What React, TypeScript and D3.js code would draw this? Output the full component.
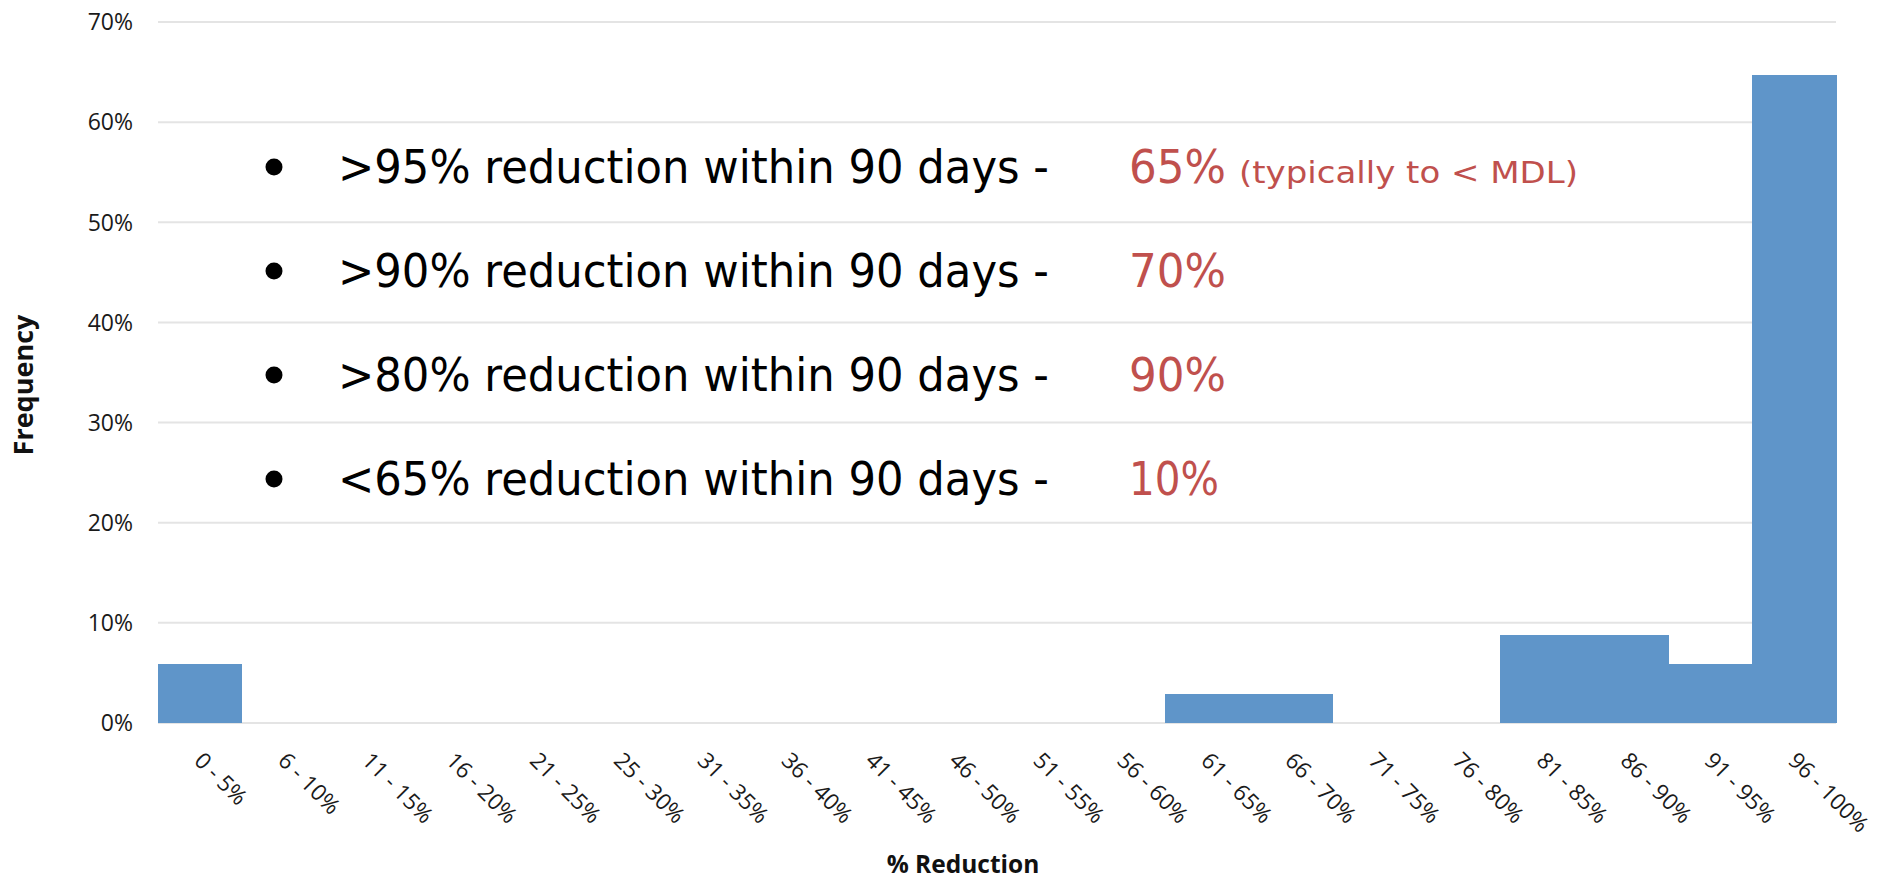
import React from 'react';
import * as d3 from 'd3';

const categories = [
  '0 - 5%', '6 - 10%', '11 - 15%', '16 - 20%', '21 - 25%', '25 - 30%', '31 - 35%',
  '36 - 40%', '41 - 45%', '46 - 50%', '51 - 55%', '56 - 60%', '61 - 65%', '66 - 70%',
  '71 - 75%', '76 - 80%', '81 - 85%', '86 - 90%', '91 - 95%', '96 - 100%',
];
const frequency = [
  0.0588, 0, 0, 0, 0, 0, 0, 0, 0, 0, 0, 0, 0.0294, 0.0294, 0, 0, 0.0882, 0.0882, 0.0588, 0.6471,
];
const yTicks = [0, 0.1, 0.2, 0.3, 0.4, 0.5, 0.6, 0.7];

const bulletText = [
  '>95% reduction within 90 days -',
  '>90% reduction within 90 days -',
  '>80% reduction within 90 days -',
  '<65% reduction within 90 days -',
];
const bulletValue = ['65%', '70%', '90%', '10%'];
const bulletNote = ['(typically to < MDL)', '', '', ''];

const W = 1881;
const H = 881;
const margin = { top: 22, right: 45, bottom: 158, left: 158 };

const axisFont = "'Open Sans', 'Liberation Sans', sans-serif";
const noteFont = "'Comic Sans MS', 'DejaVu Sans', sans-serif";

const App: React.FC = () => {
  const x = d3.scaleBand<string>()
    .domain(categories)
    .range([margin.left, W - margin.right])
    .padding(0);

  const y = d3.scaleLinear()
    .domain([0, 0.7])
    .range([H - margin.bottom, margin.top]);

  const fmt = d3.format('.0%');

  // bullet rows
  const rowY = d3.scaleLinear().domain([0, 1]).range([183, 287]);

  return (
    <svg width={W} height={H} style={{ position: 'absolute', left: 0, top: 0, background: '#fff' }}>
      {/* gridlines */}
      {yTicks.map(t => (
        <line key={t} x1={margin.left} x2={W - margin.right} y1={y(t)} y2={y(t)}
          stroke="#e4e4e4" strokeWidth={2} />
      ))}
      {/* y tick labels */}
      {yTicks.map(t => (
        <text key={'l' + t} x={133} y={y(t)} dy="0.36em" textAnchor="end"
          fontFamily={axisFont} fontSize={23} fill="#1a1a1a">{fmt(t)}</text>
      ))}

      {/* bars */}
      {categories.map((c, i) => frequency[i] > 0 && (
        <rect key={c} x={x(c)} y={y(frequency[i])} width={x.bandwidth() + 0.5}
          height={y(0) - y(frequency[i])} fill="#5f95c9" shapeRendering="crispEdges" />
      ))}

      {/* x tick labels */}
      {categories.map(c => {
        const cx = (x(c) as number) + x.bandwidth() / 2 - 7;
        return (
          <text key={'x' + c} transform={`translate(${cx},762) rotate(45)`}
            fontFamily={axisFont} fontSize={22.5} fill="#1a1a1a">{c}</text>
        );
      })}

      {/* axis titles */}
      <text x={963} y={873} textAnchor="middle"
        fontFamily={axisFont} fontSize={24.5} fontWeight="bold" fill="#111">% Reduction</text>
      <text transform={`translate(33,385) rotate(-90)`} textAnchor="middle"
        fontFamily={axisFont} fontSize={27} fontWeight="bold" fill="#111">Frequency</text>

      {/* annotations */}
      {bulletText.map((t, i) => {
        const by = rowY(i);
        return (
          <g key={t}>
            <circle cx={274} cy={by - 16} r={8.5} fill="#000" />
            <text x={338} y={by} fontFamily={noteFont} fontSize={46} fill="#000"
              textLength={711} lengthAdjust="spacingAndGlyphs">{t}</text>
            <text x={1129} y={by} fontFamily={noteFont} fontSize={46} fill="#c0504d"
              textLength={i === 3 ? 90 : 97} lengthAdjust="spacingAndGlyphs">{bulletValue[i]}</text>
            {bulletNote[i] && (
              <text x={1239} y={by} fontFamily={noteFont} fontSize={31} fill="#c0504d"
                textLength={339} lengthAdjust="spacingAndGlyphs">{bulletNote[i]}</text>
            )}
          </g>
        );
      })}
    </svg>
  );
};

export default App;
